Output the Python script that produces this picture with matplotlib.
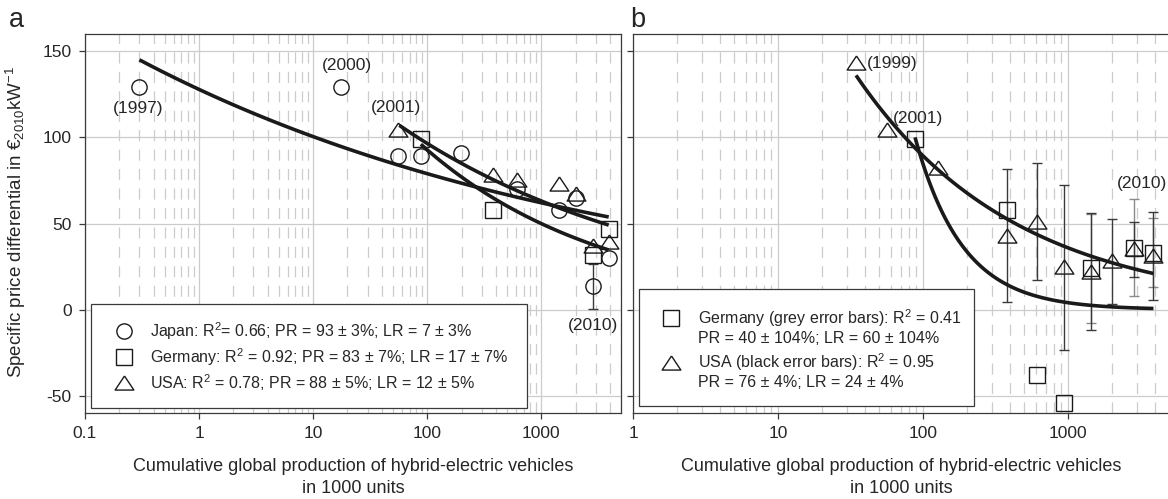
import numpy as np
import matplotlib
matplotlib.use('Agg')
import matplotlib.pyplot as plt
from matplotlib.patches import Rectangle
from matplotlib.ticker import FixedLocator, FixedFormatter, LogLocator, NullFormatter

plt.rcParams['font.family'] = ['Liberation Sans', 'DejaVu Sans']
plt.rcParams['mathtext.fontset'] = 'custom'
plt.rcParams['mathtext.rm'] = 'Liberation Sans'
plt.rcParams['mathtext.it'] = 'Liberation Sans'
plt.rcParams['mathtext.default'] = 'regular'
plt.rcParams['axes.unicode_minus'] = False
plt.rcParams['lines.scale_dashes'] = False

nan = np.nan

# ---- panel a: price differential by country of sale
japan_a_x = [0.3, 17.7, 55, 88, 196, 610, 1430, 2000, 2860, 3900]
japan_a_y = [129, 129, 89, 89, 91, 70, 58, 65, 13.5, 30]
japan_a_err = [nan, nan, nan, nan, nan, nan, nan, nan, 13, nan]

germany_a_x = [88, 380, 2860, 3900]
germany_a_y = [99, 58, 32, 47]

usa_a_x = [56, 380, 610, 1430, 2000, 2860, 3950]
usa_a_y = [104, 78, 75, 73, 67, 37, 39]

# experience curves: progress ratio, first x, y at first x, last x
fit_a_pr = [0.93, 0.83, 0.88]
fit_a_x0 = [0.3, 88, 57]
fit_a_y0 = [145, 96, 107]
fit_a_x1 = [3900, 3900, 3900]

years_a = ['(1997)', '(2000)', '(2001)', '(2010)']
years_a_x = [0.29, 19.8, 53.6, 2825]
years_a_y = [117, 141.7, 117.5, -9.3]

legend_a = ['Japan: R$^2$= 0.66; PR = 93 ± 3%; LR = 7 ± 3%',
            'Germany: R$^2$ = 0.92; PR = 83 ± 7%; LR = 17 ± 7%',
            'USA: R$^2$ = 0.78; PR = 88 ± 5%; LR = 12 ± 5%']

# ---- panel b: with error bars
germany_b_x = [88, 380, 610, 940, 1435, 2865, 3875]
germany_b_y = [99, 58, -38, -54, 24, 36, 33]
germany_b_err = [nan, nan, nan, nan, 31.5, 28, 20]

usa_b_x = [34.5, 56, 126, 380, 610, 940, 1435, 2000, 2865, 3875]
usa_b_y = [143, 104, 82, 43, 51, 24.5, 22, 28, 35, 31]
usa_b_err = [nan, nan, nan, 38.5, 34, 48, 34, 24.5, 16, 25.5]

fit_b_pr = [0.40, 0.76]
fit_b_x0 = [88, 34.5]
fit_b_y0 = [100, 136]
fit_b_x1 = [3875, 3875]

years_b = ['(1999)', '(2001)', '(2010)']
years_b_x = [40.9, 92.4, 3220]
years_b_y = [142.8, 110.7, 73]

legend_b = ['Germany (grey error bars): R$^2$ = 0.41',
            'PR = 40 ± 104%; LR = 60 ± 104%',
            'USA (black error bars): R$^2$ = 0.95',
            'PR = 76 ± 4%; LR = 24 ± 4%']

yticks = [-50, 0, 50, 100, 150]
yticklabels = ['-50', '0', '50', '100', '150']
xticks_a = [0.1, 1, 10, 100, 1000]
xticks_b = [1, 10, 100, 1000]

ink = '#1a1a1a'
textc = '#262626'
edge = '#3a3a3a'
gridc = '#cccccc'
greybar = '#8a8a8a'

tri = [(0, 0.8), (-1, -0.7), (1, -0.7), (0, 0.8)]
mstyle = dict(ls='none', mfc='none', mec=ink, mew=1.0)
shapes = {'o': ('o', 11), 's': ('s', 11), '^': (tri, 13.5)}


def setupPanel(ax, xmin, xticks):
    ax.set_xscale('log')
    ax.set_xlim(xmin, 5000)
    ax.set_ylim(-60, 160)
    ax.xaxis.set_major_locator(FixedLocator(xticks))
    ax.xaxis.set_major_formatter(FixedFormatter([('%g' % t) for t in xticks]))
    ax.xaxis.set_minor_locator(LogLocator(base=10, subs=np.arange(2, 10)))
    ax.xaxis.set_minor_formatter(NullFormatter())
    ax.yaxis.set_major_locator(FixedLocator(yticks))
    ax.grid(which='major', color=gridc, lw=0.9)
    ax.grid(which='minor', axis='x', color=gridc, lw=0.9, ls=(0, (8, 6)))
    ax.tick_params(which='minor', length=0)
    ax.tick_params(which='major', direction='out', length=4.5, width=0.9,
                   color=edge, labelsize=12.5, labelcolor=textc, pad=5)
    for sp in ax.spines.values():
        sp.set_color(edge)
        sp.set_linewidth(0.9)
    ax.set_axisbelow(True)
    ax.set_xlabel('Cumulative global production of hybrid-electric vehicles\nin 1000 units',
                  fontsize=13, color=textc, linespacing=1.42, labelpad=12)


def points(ax, x, y, key):
    m, ms = shapes[key]
    ax.plot(x, y, marker=m, ms=ms, **mstyle)


def bars(ax, x, y, err, color):
    x = np.array(x); y = np.array(y); err = np.array(err)
    ok = ~np.isnan(err)
    ax.errorbar(x[ok], y[ok], yerr=err[ok], fmt='none', ecolor=color,
                elinewidth=1.0, capsize=3.5, capthick=1.0)


def curves(ax, prs, x0s, y0s, x1s):
    for pr, x0, y0, x1 in zip(prs, x0s, y0s, x1s):
        xs = np.logspace(np.log10(x0), np.log10(x1), 120)
        ax.plot(xs, y0 * (xs / x0) ** np.log2(pr), color=ink, lw=2.6,
                solid_capstyle='butt')


def legendBox(ax, box, rows, marks, textx, markx):
    ax.add_patch(Rectangle((box[0], box[1]), box[2] - box[0], box[3] - box[1],
                           transform=ax.transAxes, fc='white', ec=edge, lw=0.9, zorder=5))
    for yy, txt in rows:
        ax.text(textx, yy, txt, transform=ax.transAxes, fontsize=11.5,
                color=textc, va='center', ha='left', zorder=6)
    for yy, key in marks:
        m, ms = shapes[key]
        ax.plot([markx], [yy], marker=m, ms=ms, transform=ax.transAxes,
                zorder=6, **mstyle)


fig = plt.figure(figsize=(11.68, 4.99), dpi=100)
W, H = 1168.0, 499.0
axa = fig.add_axes([85 / W, 1 - 413 / H, 536 / W, 379 / H])
axb = fig.add_axes([633 / W, 1 - 413 / H, 536.5 / W, 379 / H])

###############################
setupPanel(axa, 0.1, xticks_a)
axa.set_yticklabels(yticklabels)

bars(axa, japan_a_x, japan_a_y, japan_a_err, edge)
curves(axa, fit_a_pr, fit_a_x0, fit_a_y0, fit_a_x1)
points(axa, japan_a_x, japan_a_y, 'o')
points(axa, germany_a_x, germany_a_y, 's')
points(axa, usa_a_x, usa_a_y, '^')
for t, x, y in zip(years_a, years_a_x, years_a_y):
    axa.text(x, y, t, fontsize=12.5, color=textc, ha='center', va='center')

legendBox(axa, (0.011, 0.0145, 0.825, 0.2876),
          [(0.2164, legend_a[0]), (0.1478, legend_a[1]), (0.0792, legend_a[2])],
          [(0.2164, 'o'), (0.1478, 's'), (0.0792, '^')], 0.121, 0.072)

###############################
setupPanel(axb, 1, xticks_b)
axb.set_yticklabels([])

bars(axb, germany_b_x, germany_b_y, germany_b_err, greybar)
bars(axb, usa_b_x, usa_b_y, usa_b_err, edge)
curves(axb, fit_b_pr, fit_b_x0, fit_b_y0, fit_b_x1)
points(axb, germany_b_x, germany_b_y, 's')
points(axb, usa_b_x, usa_b_y, '^')
axb.text(years_b_x[0], years_b_y[0], years_b[0], fontsize=12.5, color=textc, ha='left', va='center')
for t, x, y in zip(years_b[1:], years_b_x[1:], years_b_y[1:]):
    axb.text(x, y, t, fontsize=12.5, color=textc, ha='center', va='center')

legendBox(axb, (0.011, 0.018, 0.636, 0.326),
          [(0.250, legend_b[0]), (0.197, legend_b[1]), (0.133, legend_b[2]), (0.080, legend_b[3])],
          [(0.250, 's'), (0.133, '^')], 0.121, 0.0716)

###############################
fig.text(0.014, 0.555, 'Specific price differential in €$_{2010}$kW$^{-1}$',
         rotation=90, ha='center', va='center', fontsize=13.5, color=textc)
fig.text(9 / W, 1 - 27 / H, 'a', fontsize=19.5, color=textc, va='baseline', ha='left')
fig.text(630 / W, 1 - 27 / H, 'b', fontsize=19.5, color=textc, va='baseline', ha='left')

plt.savefig('out.png', dpi=100)
